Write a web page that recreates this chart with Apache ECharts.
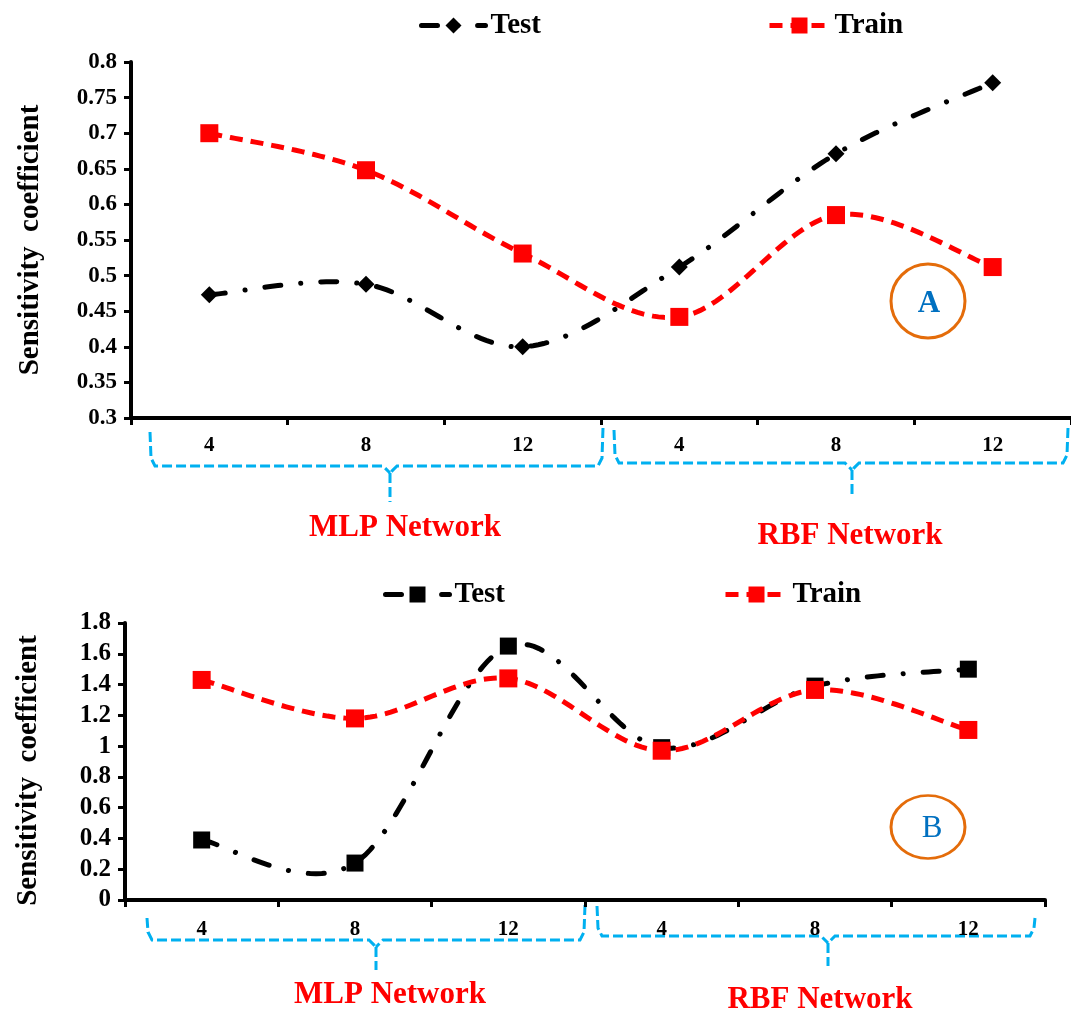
<!DOCTYPE html>
<html><head><meta charset="utf-8">
<script src="https://cdn.jsdelivr.net/npm/echarts@6/dist/echarts.min.js"></script>
<style>html,body{margin:0;padding:0;background:#fff}#c{width:1071px;height:1011px}</style>
</head><body><div id="c"></div>
<script>
const categories = ['4', '8', '12', '4', '8', '12'];
const groupNames = ['MLP Network', 'RBF Network'];
const testA = [0.473, 0.488, 0.400, 0.512, 0.671, 0.771];
const trainA = [0.700, 0.648, 0.531, 0.442, 0.585, 0.512];
const testB = [0.39, 0.24, 1.65, 0.99, 1.39, 1.50];
const trainB = [1.43, 1.18, 1.44, 0.97, 1.365, 1.105];
const panelLabels = ['A', 'B'];
const yNameText = 'Sensitivity  coefficient';

const FONT = 'Liberation Serif';
const chart = echarts.init(document.getElementById('c'), null, {renderer: 'canvas'});

const TEST_DASH = [16, 20, 0.1, 20];
const TRAIN_DASH = [13, 8];
const LW = 5;

function brace(x0, x1, yTop0, yTop1, yBar, xm, yDip) {
  const st = {stroke: '#00B0F0', lineWidth: 3, lineDash: [10, 4], fill: null};
  return [
    {type: 'polyline', shape: {points: [[x0, yTop0], [x0 + 1, yBar - 8], [x0 + 5, yBar], [xm - 7, yBar], [xm, yBar + 7]]}, style: st, silent: true},
    {type: 'polyline', shape: {points: [[x1, yTop1], [x1 - 1, yBar - 8], [x1 - 5, yBar], [xm + 7, yBar], [xm, yBar + 7]]}, style: st, silent: true},
    {type: 'line', shape: {x1: xm, y1: yBar + 7, x2: xm, y2: yDip}, style: st, silent: true}
  ];
}
function netText(txt, x, y) {
  return {type: 'text', x: x, y: y, style: {text: txt, fill: '#FF0000', font: 'bold 31px "' + FONT + '"', textAlign: 'center', textVerticalAlign: 'middle'}, silent: true};
}

function yAxis(gi, min, max, interval, fs, decimals) {
  return {
    type: 'value', gridIndex: gi, min: min, max: max, interval: interval,
    name: yNameText, nameLocation: 'middle', nameRotate: 90, nameGap: gi === 0 ? 86 : 82,
    nameTextStyle: {color: '#000', fontFamily: FONT, fontWeight: 'bold', fontSize: 29,
      padding: gi === 0 ? 0 : [0, 18, 0, 0]},
    axisLine: {show: true, lineStyle: {color: '#000', width: 4}},
    axisTick: {show: true, length: 7, lineStyle: {color: '#000', width: 3}},
    splitLine: {show: false},
    axisLabel: {color: '#000', fontFamily: FONT, fontWeight: 'bold', margin: 14, fontSize: fs,
      formatter: v => String(+v.toFixed(decimals))}
  };
}
function xAxis(gi, margin) {
  return {
    type: 'category', gridIndex: gi, data: categories, boundaryGap: true,
    axisLine: {show: true, lineStyle: {color: '#000', width: 4}},
    axisTick: {show: true, length: 7, lineStyle: {color: '#000', width: 3}},
    axisLabel: {color: '#000', fontFamily: FONT, fontWeight: 'bold', fontSize: 21, margin: margin, interval: 0}
  };
}
function legend(name, left, top, w, color, dash, cap) {
  return {data: [name], left: left, top: top, itemWidth: w, itemHeight: 20, selectedMode: false,
    lineStyle: {color: color, width: LW, type: dash, cap: cap, opacity: 1},
    textStyle: {color: '#000', fontFamily: FONT, fontWeight: 'bold', fontSize: 29}};
}

// Excel-like (Catmull-Rom) smoothed line drawn through the axes' scales
function smoothLine(name, arr, gi, color, dash, cap, z) {
  return {
    name: name + '_line', type: 'custom', xAxisIndex: gi, yAxisIndex: gi, z: z, silent: true,
    data: arr.map((v, i) => [i, v]), encode: {x: 0, y: 1},
    renderItem: function (params, api) {
      if (params.dataIndex !== 0) return null;
      const p = arr.map((v, k) => api.coord([k, v]));
      const pts = [];
      const n = p.length;
      for (let i = 0; i < n - 1; i++) {
        const p0 = p[Math.max(i - 1, 0)], p1 = p[i], p2 = p[i + 1], p3 = p[Math.min(i + 2, n - 1)];
        const c1 = [p1[0] + (p2[0] - p0[0]) / 6, p1[1] + (p2[1] - p0[1]) / 6];
        const c2 = [p2[0] - (p3[0] - p1[0]) / 6, p2[1] - (p3[1] - p1[1]) / 6];
        const steps = 30;
        for (let s = (i === 0 ? 0 : 1); s <= steps; s++) {
          const t = s / steps, u = 1 - t;
          pts.push([
            u * u * u * p1[0] + 3 * u * u * t * c1[0] + 3 * u * t * t * c2[0] + t * t * t * p2[0],
            u * u * u * p1[1] + 3 * u * u * t * c1[1] + 3 * u * t * t * c2[1] + t * t * t * p2[1]
          ]);
        }
      }
      return {type: 'polyline', shape: {points: pts},
        style: {stroke: color, lineWidth: LW, lineDash: dash, lineCap: cap, fill: 'none'}};
    }
  };
}
function markers(name, arr, gi, symbol, size, color, z) {
  return {name: name, type: 'line', xAxisIndex: gi, yAxisIndex: gi, data: arr, z: z,
    symbol: symbol, symbolSize: size, itemStyle: {color: color},
    lineStyle: {color: color, opacity: 0}};
}

chart.setOption({
  animation: false,
  backgroundColor: '#fff',
  grid: [
    {left: 131, top: 62, width: 945, height: 356},
    {left: 125, top: 623, width: 920, height: 277}
  ],
  xAxis: [xAxis(0, 17), xAxis(1, 19)],
  yAxis: [yAxis(0, 0.3, 0.8, 0.05, 23, 2), yAxis(1, 0, 1.8, 0.2, 25, 1)],
  legend: [
    legend('Test', 414, 6, 64, '#000', TEST_DASH, 'round'),
    legend('Train', 762, 6, 60, '#FF0000', TRAIN_DASH, 'butt'),
    legend('Test ', 378, 575, 64, '#000', TEST_DASH, 'round'),
    legend('Train ', 718, 575, 62, '#FF0000', TRAIN_DASH, 'butt')
  ],
  series: [
    smoothLine('Test', testA, 0, '#000', TEST_DASH, 'round', 1),
    smoothLine('Train', trainA, 0, '#FF0000', TRAIN_DASH, 'butt', 2),
    markers('Test', testA, 0, 'diamond', [17, 17], '#000', 3),
    markers('Train', trainA, 0, 'rect', 18, '#FF0000', 4),
    smoothLine('Test ', testB, 1, '#000', TEST_DASH, 'round', 1),
    smoothLine('Train ', trainB, 1, '#FF0000', TRAIN_DASH, 'butt', 2),
    markers('Test ', testB, 1, 'rect', 17, '#000', 3),
    markers('Train ', trainB, 1, 'rect', 18, '#FF0000', 4)
  ],
  graphic: [].concat(
    brace(150, 603, 432, 428, 466, 390, 502),
    brace(614, 1068, 430, 428, 463, 852, 497),
    brace(147, 585, 918, 905, 940, 376, 970),
    brace(597, 1035, 906, 918, 936, 828, 966),
    [
      netText(groupNames[0], 405, 528), netText(groupNames[1], 850, 536),
      netText(groupNames[0], 390, 995), netText(groupNames[1], 820, 1000),
      {type: 'circle', shape: {cx: 928, cy: 301, r: 37}, style: {stroke: '#E46C0A', lineWidth: 3, fill: null}, silent: true},
      {type: 'text', x: 929, y: 304, style: {text: panelLabels[0], fill: '#0070C0', font: 'bold 31px "' + FONT + '"', textAlign: 'center', textVerticalAlign: 'middle'}, silent: true},
      {type: 'circle', shape: {cx: 0, cy: 0, r: 37}, x: 928, y: 827, scaleY: 0.85, style: {stroke: '#E46C0A', lineWidth: 3, fill: null, strokeNoScale: true}, silent: true},
      {type: 'text', x: 932, y: 829, style: {text: panelLabels[1], fill: '#0070C0', font: '31px "' + FONT + '"', textAlign: 'center', textVerticalAlign: 'middle'}, silent: true}
    ]
  )
});
</script></body></html>
